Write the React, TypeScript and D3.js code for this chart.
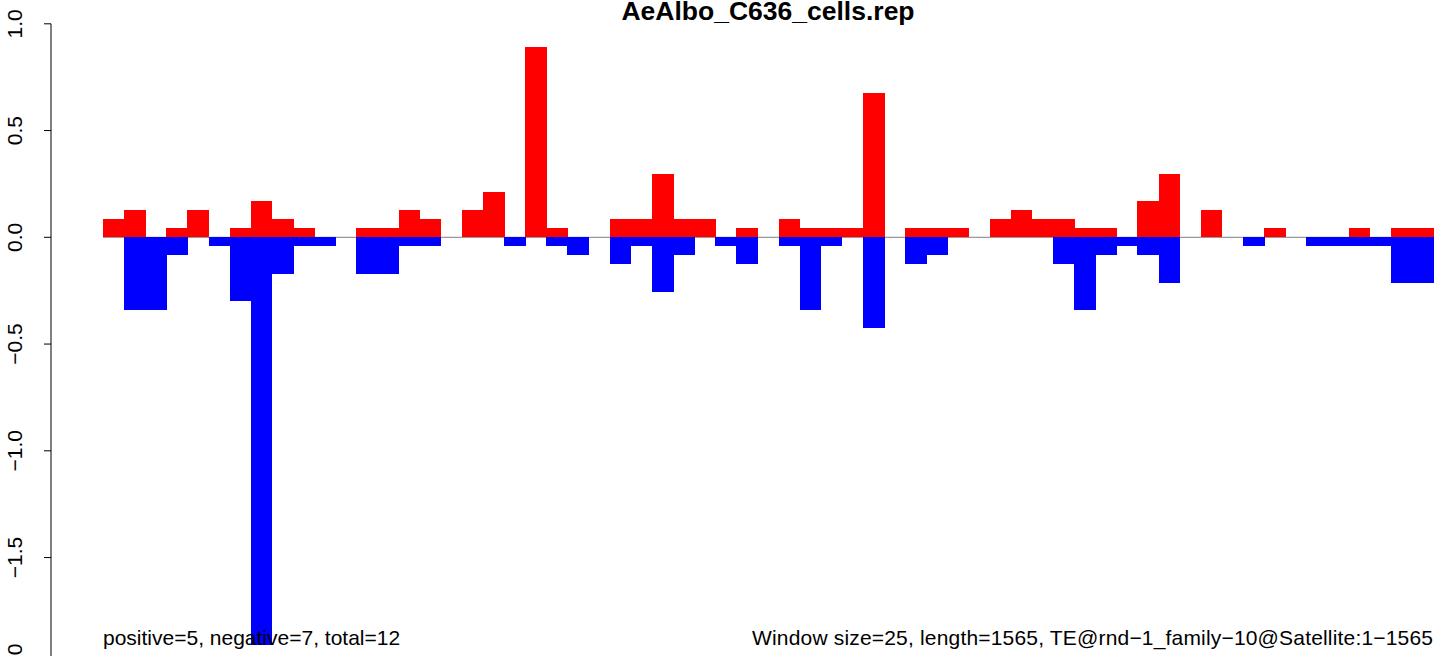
import React from "react";
import * as d3 from "d3";

// Data (window size 25, length 1565 -> 63 windows)
const title = "AeAlbo_C636_cells.rep";
const leftNote = "positive=5, negative=7, total=12";
const rightNote = "Window size=25, length=1565, TE@rnd\u22121_family\u221210@Satellite:1\u22121565";

const positiveValues = [
  0.085, 0.127, 0, 0.042, 0.127, 0, 0.042, 0.17, 0.085, 0.042,
  0, 0, 0.042, 0.042, 0.127, 0.085, 0, 0.127, 0.212, 0,
  0.89, 0.042, 0, 0, 0.085, 0.085, 0.297, 0.085, 0.085, 0,
  0.042, 0, 0.085, 0.042, 0.042, 0.042, 0.678, 0, 0.042, 0.042,
  0.042, 0, 0.085, 0.127, 0.085, 0.085, 0.042, 0.042, 0, 0.17,
  0.297, 0, 0.127, 0, 0, 0.042, 0, 0, 0, 0.042,
  0, 0.042, 0.042,
];

const negativeValues = [
  0, -0.339, -0.339, -0.085, 0, -0.042, -0.297, -1.908, -0.17, -0.042,
  -0.042, 0, -0.17, -0.17, -0.042, -0.042, 0, 0, 0, -0.042,
  0, -0.042, -0.085, 0, -0.127, -0.042, -0.254, -0.085, 0, -0.042,
  -0.127, 0, -0.042, -0.339, -0.042, 0, -0.424, 0, -0.127, -0.085,
  0, 0, 0, 0, 0, -0.127, -0.339, -0.085, -0.042, -0.085,
  -0.212, 0, 0, 0, -0.042, 0, 0, -0.042, -0.042, -0.042,
  -0.042, -0.212, -0.212,
];

const yTicks = [1.0, 0.5, 0.0, -0.5, -1.0, -1.5, -2.0];

const W = 1441;
const H = 656;
const FONT = "'Liberation Sans', Arial, Helvetica, sans-serif";

export default function App() {
  const windows = positiveValues.map((_, i) => i);
  const x = d3.scaleBand<number>().domain(windows).range([103, 1433]).padding(0);
  const y = d3.scaleLinear().domain([-2, 1]).range([664.3, 23.8]);
  const fmt = (v: number) => d3.format(".1f")(v).replace("-", "\u2212");
  const bw = x.bandwidth();

  return (
    <svg
      width={W}
      height={H}
      style={{ position: "absolute", left: 0, top: 0, background: "#fff" }}
      fontFamily={FONT}
    >
      <rect x={0} y={0} width={W} height={H} fill="#fff" />
      {/* zero line */}
      <line x1={x(0)} x2={1433} y1={y(0)} y2={y(0)} stroke="#808080" strokeWidth={1} />
      {/* bars */}
      <g shapeRendering="crispEdges">
        {positiveValues.map((v, i) =>
          v > 0 ? (
            <rect key={"p" + i} x={x(i)} y={y(v)} width={bw + 0.6} height={y(0) - y(v)} fill="#ff0000" />
          ) : null
        )}
        {negativeValues.map((v, i) =>
          v < 0 ? (
            <rect key={"n" + i} x={x(i)} y={y(0)} width={bw + 0.6} height={y(v) - y(0)} fill="#0000ff" />
          ) : null
        )}
      </g>
      {/* y axis */}
      <line x1={51} x2={51} y1={y(1)} y2={y(-2)} stroke="#000" strokeWidth={1} />
      {yTicks.map((t) => (
        <g key={t}>
          <line x1={44} x2={51} y1={y(t)} y2={y(t)} stroke="#000" strokeWidth={1} />
          <text
            transform={`translate(22,${y(t)}) rotate(-90)`}
            textAnchor="middle"
            fontSize={21}
            fill="#000"
          >
            {fmt(t)}
          </text>
        </g>
      ))}
      {/* title */}
      <text x={768} y={20} textAnchor="middle" fontSize={26.5} fontWeight="bold" fill="#000">
        {title}
      </text>
      {/* notes */}
      <text x={103} y={645} fontSize={21} fill="#000">
        {leftNote}
      </text>
      <text
        x={1433}
        y={645}
        textAnchor="end"
        fontSize={21}
        fill="#000"
        textLength={681}
        lengthAdjust="spacing"
      >
        {rightNote}
      </text>
    </svg>
  );
}
